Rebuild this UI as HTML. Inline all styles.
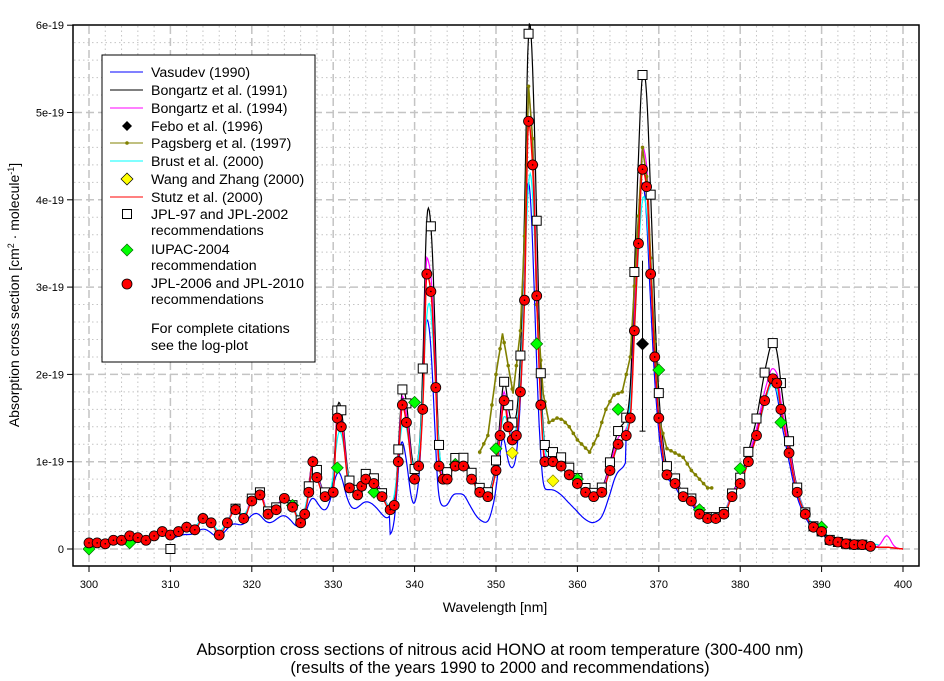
<!DOCTYPE html>
<html><head><meta charset="utf-8"><style>
body{margin:0;background:#fff;}
svg{display:block;font-family:"Liberation Sans",Arial,sans-serif;}
</style></head><body>
<svg id="s" width="944" height="681" viewBox="0 0 944 681" xmlns="http://www.w3.org/2000/svg">
<rect width="944" height="681" fill="#fff"/>
<g id="grid"></g>
<g id="data"></g>
<rect x="73" y="25" width="846" height="541" fill="none" stroke="#000" stroke-width="1.5"/>
<g id="ticks" font-size="11"></g>
<text x="495" y="612" font-size="14" text-anchor="middle">Wavelength [nm]</text>
<text transform="translate(19,295) rotate(-90)" font-size="14" text-anchor="middle">Absorption cross section [cm<tspan font-size="9" dy="-5">2</tspan><tspan dy="5"> · molecule</tspan><tspan font-size="9" dy="-5">-1</tspan><tspan dy="5">]</tspan></text>
<text x="500" y="655" font-size="16.5" text-anchor="middle">Absorption cross sections of nitrous acid HONO at room temperature (300-400 nm)</text>
<text x="500" y="673" font-size="16.5" text-anchor="middle">(results of the years 1990 to 2000 and recommendations)</text>
<g id="legend" font-size="14.2">
<rect x="102" y="55" width="213" height="307" fill="#fff" stroke="#000" stroke-width="1"/>
<line x1="110" x2="143" y1="72" y2="72" stroke="#00f"/><text x="151" y="77">Vasudev (1990)</text>
<line x1="110" x2="143" y1="90" y2="90" stroke="#000"/><text x="151" y="95">Bongartz et al. (1991)</text>
<line x1="110" x2="143" y1="108" y2="108" stroke="#f0f"/><text x="151" y="113">Bongartz et al. (1994)</text>
<path d="M127 121 l5 5 -5 5 -5 -5z" fill="#000"/><text x="151" y="131">Febo et al. (1996)</text>
<line x1="110" x2="143" y1="143" y2="143" stroke="#808000"/><circle cx="127" cy="143" r="1.8" fill="#808000"/><text x="151" y="148">Pagsberg et al. (1997)</text>
<line x1="110" x2="143" y1="161" y2="161" stroke="#0ff"/><text x="151" y="166">Brust et al. (2000)</text>
<path d="M127 173 l6 6 -6 6 -6 -6z" fill="#ff0" stroke="#000" stroke-width=".7"/><text x="151" y="184">Wang and Zhang (2000)</text>
<line x1="110" x2="143" y1="197" y2="197" stroke="#f00"/><text x="151" y="202">Stutz et al. (2000)</text>
<rect x="122.5" y="209.5" width="9" height="9" fill="#fff" stroke="#000"/><text x="151" y="219">JPL-97 and JPL-2002</text><text x="151" y="235">recommendations</text>
<path d="M127 244 l6 6 -6 6 -6 -6z" fill="#0f0" stroke="#060" stroke-width=".7"/><text x="151" y="254">IUPAC-2004</text><text x="151" y="270">recommendation</text>
<circle cx="127" cy="284" r="5" fill="#f00" stroke="#000" stroke-width=".8"/><text x="151" y="288">JPL-2006 and JPL-2010</text><text x="151" y="304">recommendations</text>
<text x="151" y="333">For complete citations</text><text x="151" y="350">see the log-plot</text>
</g>
</svg>
<script>
const NS="http://www.w3.org/2000/svg";
const X=w=>89+(w-300)*8.14, Y=v=>549-v*87.3;
function el(p,t,a){const e=document.createElementNS(NS,t);for(const k in a)e.setAttribute(k,a[k]);p.appendChild(e);return e;}
const g=document.getElementById('grid'),d=document.getElementById('data'),tk=document.getElementById('ticks');
for(let w=298;w<=418;w+=2){const x=X(w);if(x<=74||x>=918)continue;const maj=w%10==0;
 el(g,'line',{x1:x,x2:x,y1:26,y2:565,stroke:'#c4c4c4','stroke-width':maj?1.5:1,'stroke-dasharray':maj?'8 4':'1.5 3'});}
for(let i=-1;i<=30;i++){const v=i*0.2,y=Y(v);if(y>=565||y<=26)continue;const maj=i%5==0;
 el(g,'line',{x1:74,x2:918,y1:y,y2:y,stroke:'#c4c4c4','stroke-width':maj?1.5:1,'stroke-dasharray':maj?'8 4':'1.5 3'});}
for(let w=300;w<=400;w+=10){el(tk,'line',{x1:X(w),x2:X(w),y1:566,y2:572,stroke:'#000'});const t=el(tk,'text',{x:X(w),y:588,'text-anchor':'middle'});t.textContent=w;}
for(let i=0;i<=6;i++){el(tk,'line',{x1:67,x2:73,y1:Y(i),y2:Y(i),stroke:'#000'});const t=el(tk,'text',{x:64,y:Y(i)+4,'text-anchor':'end'});t.textContent=i?i+'e-19':'0';}
const R=[[300,.07],[301,.07],[302,.06],[303,.1],[304,.1],[305,.15],[306,.13],[307,.1],[308,.15],[309,.2],[310,.16],[311,.2],[312,.25],[313,.22],[314,.35],[315,.3],[316,.16],[317,.3],[318,.45],[319,.35],[320,.55],[321,.62],[322,.4],[323,.45],[324,.58],[325,.48],[326,.3],[326.5,.4],[327,.65],[327.5,1.0],[328,.82],[329,.6],[330,.65],[330.5,1.5],[331,1.4],[332,.7],[333,.62],[333.5,.72],[334,.8],[335,.75],[336,.6],[337,.45],[337.5,.5],[338,1.0],[338.5,1.65],[339,1.45],[340,.8],[340.5,.95],[341,1.6],[341.5,3.15],[342,2.95],[342.6,1.85],[343,.95],[343.5,.8],[344,.8],[345,.95],[346,.95],[347,.8],[348,.65],[349,.6],[350,.9],[350.5,1.3],[351,1.7],[351.5,1.4],[352,1.25],[352.5,1.3],[353,1.8],[353.5,2.85],[354,4.9],[354.5,4.4],[355,2.9],[355.5,1.65],[356,1.0],[357,1.0],[358,.95],[359,.85],[360,.75],[361,.65],[362,.6],[363,.65],[364,.9],[365,1.2],[366,1.3],[366.5,1.5],[367,2.5],[367.5,3.5],[368,4.35],[368.5,4.15],[369,3.15],[369.5,2.2],[370,1.5],[371,.85],[372,.75],[373,.6],[374,.55],[375,.4],[376,.35],[377,.35],[378,.4],[379,.6],[380,.75],[381,1.0],[382,1.3],[383,1.7],[384,1.95],[384.5,1.9],[385,1.6],[386,1.1],[387,.65],[388,.4],[389,.25],[390,.2],[391,.1],[392,.08],[393,.06],[394,.05],[395,.05],[396,.03]];
const P=R.concat([[397,.02],[398,.02],[399,.01],[400,0]]);
const n=P.length,dl=[],m=[];
for(let i=0;i<n-1;i++)dl.push((P[i+1][1]-P[i][1])/(P[i+1][0]-P[i][0]));
for(let i=0;i<n;i++){if(i==0)m.push(dl[0]);else if(i==n-1)m.push(dl[n-2]);else if(dl[i-1]*dl[i]<=0)m.push(0);else{const h0=P[i][0]-P[i-1][0],h1=P[i+1][0]-P[i][0];const w1=2*h1+h0,w2=h1+2*h0;m.push((w1+w2)/(w1/dl[i-1]+w2/dl[i]));}}
function r(w){if(w<=P[0][0])return P[0][1];if(w>=P[n-1][0])return 0;
 let i=0;while(P[i+1][0]<w)i++;const a=P[i],b=P[i+1],h=b[0]-a[0],t=(w-a[0])/h;
 const t2=t*t,t3=t2*t;
 return (2*t3-3*t2+1)*a[1]+(t3-2*t2+t)*m[i]*h+(-2*t3+3*t2)*b[1]+(t3-t2)*m[i+1]*h;}
function sm(f,s){return w=>{let a=0,c=0;for(let k=-6;k<=6;k++){const q=Math.exp(-k*k/8);a+=q*f(w+k*s/2);c+=q;}return a/c;};}
const S=sm(r,0.2);
const B2=sm(r,0.5);
function line(f,a,b,col,sw){let s='';for(let w=a;w<=b+1e-9;w+=0.1){const v=f(w);s+=(s?'L':'M')+X(w).toFixed(1)+' '+Y(Math.max(-0.02,v)).toFixed(1);}
 el(d,'path',{d:s,fill:'none',stroke:col,'stroke-width':sw||1.2});}
const blk=w=>{const v=S(w);return v*(1+0.28*Math.min(1,v/2.5));};
const blue=w=>{if(w<337)return Math.max(0.08,B2(w+0.2)*0.7);const v=S(w+0.15);if(w<366)return Math.max(0.08,v*0.95-0.27);return v*0.98;};
const mag=w=>r(w)*1.06+0.13*Math.exp(-Math.pow((w-398)/0.7,2));
const cy=sm(r,0.35);
const cyan=w=>cy(w)*0.97+0.03;
const OL=[[348,1.11],[349,1.3],[350,2.0],[350.8,2.47],[351.5,2.1],[352.1,1.78],[353,2.5],[353.6,3.8],[354,5.3],[354.5,4.7],[355,2.8],[355.8,1.78],[356.5,1.45],[357.5,1.5],[358.2,1.48],[359,1.4],[360,1.25],[361.5,1.11],[362.5,1.3],[363.5,1.6],[364.4,1.76],[365.5,1.8],[366.5,2.2],[367.3,3.5],[368,4.6],[368.6,4.2],[369.2,2.9],[370,1.5],[371,1.15],[372,1.1],[373,1.05],[374,0.9],[375,0.8],[376,0.7],[376.5,0.7]];
function ol(w){let i=0;while(i<OL.length-2&&OL[i+1][0]<w)i++;const a=OL[i],b=OL[i+1];return a[1]+(b[1]-a[1])*(w-a[0])/(b[0]-a[0]);}
line(blue,310,396,'#00f',1.2);
line(blk,310,396,'#000',1.2);
line(mag,300,400,'#f0f',1.2);
line(ol,348,376.5,'#808000',1.6);
for(let w=348;w<=376.5;w+=0.5)el(d,'circle',{cx:X(w),cy:Y(ol(w)),r:1.8,fill:'#808000'});
line(cyan,300,397,'#0ff',1.2);
line(r,300,400,'#f00',1.5);
const sq=[318,320,321,322,323,325,326,327,328,329,330.5,331,332,333,334,335,336,338,338.5,339,340,341,342,343,344,345,346,347,348,349,350,351,351.5,352,353,354,355,355.5,356,357,358,359,360,361,362,363,364,365,366,367,368,369,370,371,372,373,374,375,376,377,378,379,380,381,382,383,384,385,386,387,388,389,390,391,392,393,394,395];
el(d,'rect',{x:X(310)-4.5,y:Y(0)-4.5,width:9,height:9,fill:'#fff',stroke:'#000'});
sq.forEach(w=>el(d,'rect',{x:X(w)-4.5,y:Y(blk(w))-4.5,width:9,height:9,fill:'#fff',stroke:'#000'}));
const dia=(w,v,f,s)=>el(d,'path',{d:`M${X(w)} ${Y(v)-6}l6 6-6 6-6-6z`,fill:f,stroke:s,'stroke-width':.7});
[[300,0],[305,.07],[325,.5],[330.5,.93],[335,.65],[340,1.68],[345,.97],[350,1.15],[355,2.35],[360,.8],[365,1.6],[370,2.05],[375,.45],[380,.92],[385,1.45],[390,.25]].forEach(p=>dia(p[0],p[1],'#0f0','#060'));
dia(352,1.1,'#ff0','#880');dia(357,.78,'#ff0','#880');
el(d,'line',{x1:X(368),x2:X(368),y1:Y(1.35),y2:Y(3.3),stroke:'#000'});
el(d,'line',{x1:X(368)-3,x2:X(368)+3,y1:Y(1.35),y2:Y(1.35),stroke:'#000'});
dia(368,2.35,'#000','#000');
R.forEach(p=>{el(d,'circle',{cx:X(p[0]),cy:Y(p[1]),r:5,fill:'#f00',stroke:'#000','stroke-width':.8});el(d,'circle',{cx:X(p[0]),cy:Y(p[1]),r:.8,fill:'#000'});});
</script>
</body></html>
